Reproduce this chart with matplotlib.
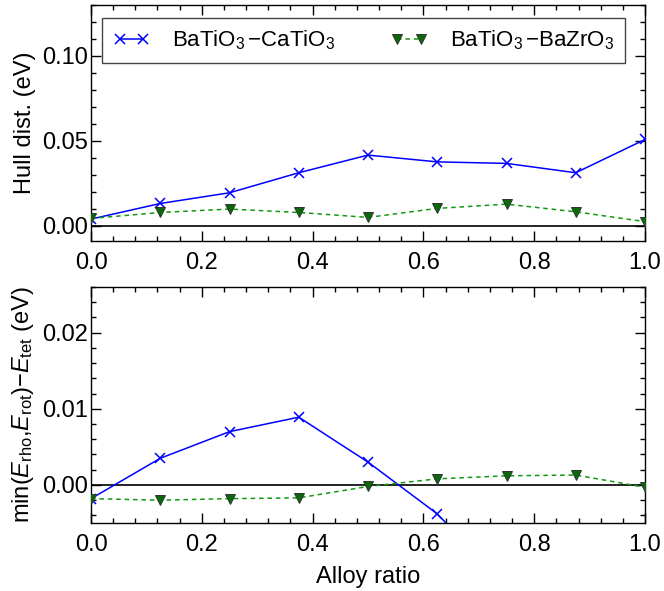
import matplotlib
matplotlib.use("Agg")
import matplotlib.pyplot as plt
from matplotlib.ticker import MultipleLocator, FormatStrFormatter

plt.rcParams['font.family'] = ['Liberation Sans', 'DejaVu Sans']
plt.rcParams['mathtext.fontset'] = 'custom'
plt.rcParams['mathtext.rm'] = 'Liberation Sans'
plt.rcParams['mathtext.it'] = 'Liberation Sans:italic'
plt.rcParams['mathtext.bf'] = 'Liberation Sans:bold'
plt.rcParams['font.size'] = 17

# Data
alloy_ratio = [0.0, 0.125, 0.25, 0.375, 0.5, 0.625, 0.75, 0.875, 1.0]
hull_ca = [0.0039, 0.0131, 0.0194, 0.0312, 0.0416, 0.0376, 0.0367, 0.0312, 0.0508]
hull_zr = [0.0043, 0.0078, 0.0098, 0.0078, 0.0049, 0.0102, 0.0127, 0.0082, 0.0024]
de_ca = [-0.0018, 0.0035, 0.0070, 0.0089, 0.0030, -0.0038, -0.0133, -0.0160, -0.0200]
de_zr = [-0.0018, -0.0020, -0.0018, -0.0017, -0.0002, 0.0008, 0.0012, 0.0013, -0.0003]

label_ca = r'BaTiO$_3\,$$-$CaTiO$_3$'
label_zr = r'BaTiO$_3\,$$-$BaZrO$_3$'

fig = plt.figure(figsize=(6.64, 5.91), dpi=100)
ax1 = fig.add_axes([91/664, 1-241/591, 554/664, 236/591])
ax2 = fig.add_axes([91/664, 1-523/591, 554/664, 236/591])

blue = '#0000ff'
green = '#119911'

def style(ax, ymajor, yminor, fmt):
    ax.set_xlim(0, 1)
    ax.xaxis.set_major_locator(MultipleLocator(0.2))
    ax.xaxis.set_minor_locator(MultipleLocator(0.04))
    ax.yaxis.set_major_locator(MultipleLocator(ymajor))
    ax.yaxis.set_minor_locator(MultipleLocator(yminor))
    ax.xaxis.set_major_formatter(FormatStrFormatter('%.1f'))
    ax.yaxis.set_major_formatter(FormatStrFormatter(fmt))
    ax.tick_params(which='both', direction='in', top=True, right=True, width=1.0,
                   labelsize=17)
    ax.tick_params(which='major', length=7.5)
    ax.tick_params(axis='x', which='major', pad=8)
    ax.tick_params(axis='y', which='major', pad=2.5)
    ax.tick_params(which='minor', length=3.5)
    for s in ax.spines.values():
        s.set_linewidth(1.0)
    ax.axhline(0, color='black', lw=1.2, zorder=1)

for ax, yca, yzr in [(ax1, hull_ca, hull_zr), (ax2, de_ca, de_zr)]:
    ax.plot(alloy_ratio, yca, color=blue, lw=1.1, marker='x', ms=7, mew=1.1,
            label=label_ca, zorder=3)
    ax.plot(alloy_ratio, yzr, color=green, lw=1.1, ls='--', dashes=(3, 2.5),
            marker='v', ms=7, mfc='#0a6a0a', mec='#333333', mew=0.7,
            label=label_zr, zorder=3)

style(ax1, 0.05, 0.01, '%.2f')
style(ax2, 0.01, 0.002, '%.2f')
ax1.set_ylim(-0.009, 0.13)
ax2.set_ylim(-0.005, 0.026)

ax1.set_ylabel('Hull dist. (eV)', fontsize=17)
ax2.set_ylabel(r'min($E_{\rm rho}$,$E_{\rm rot}$)$-E_{\rm tet}$ (eV)', fontsize=17)
ax2.set_xlabel('Alloy ratio', labelpad=7, fontsize=17)

leg = ax1.legend(loc='upper left', bbox_to_anchor=(0.02, 0.947),
                 ncol=2, numpoints=2, fancybox=False,
                 framealpha=1, edgecolor='#444444', handlelength=1.65,
                 handletextpad=1.0, columnspacing=2.5, borderpad=0.5,
                 borderaxespad=0, fontsize=16)
leg.get_frame().set_linewidth(1.0)

fig.align_ylabels([ax1, ax2])
fig.savefig('out.png', dpi=100)
